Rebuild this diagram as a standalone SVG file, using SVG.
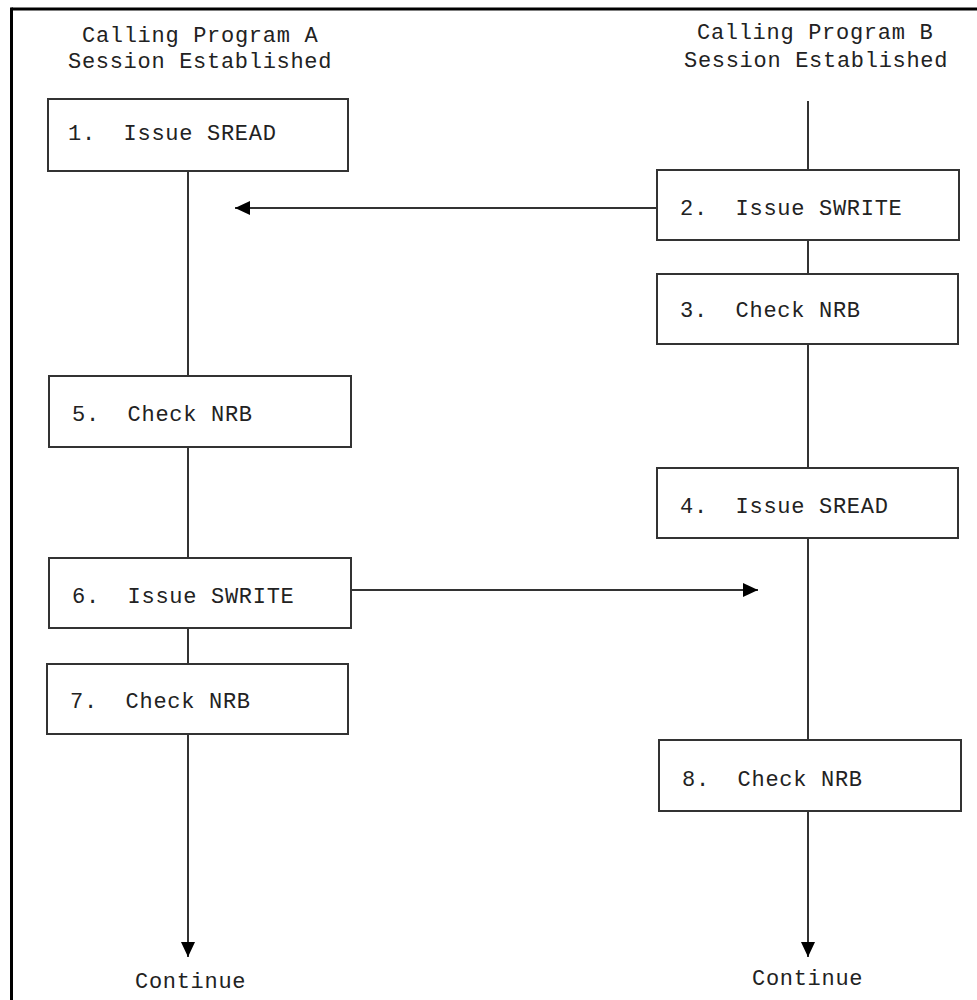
<svg xmlns="http://www.w3.org/2000/svg" width="977" height="1000" viewBox="0 0 977 1000">
<defs>
<style>
.t{font-family:"Liberation Mono","DejaVu Sans Mono",monospace;font-size:22px;letter-spacing:0.7px;fill:#222;white-space:pre}
.box{fill:#fff;stroke:#333;stroke-width:2}
.ln{stroke:#333;stroke-width:2;fill:none}
</style>
<marker id="ah" markerWidth="16" markerHeight="14" refX="15" refY="7" orient="auto" markerUnits="userSpaceOnUse">
<path d="M0,0 L15,7 L0,14 Z" fill="#000"/>
</marker>
</defs>
<rect width="977" height="1000" fill="#fff"/>
<g id="frame">
<line x1="11.5" y1="9" x2="977" y2="9" stroke="#000" stroke-width="3"/>
<line x1="11.5" y1="7.5" x2="11.5" y2="1000" stroke="#000" stroke-width="3"/>
</g>
<g id="headerA">
<text class="t" x="82" y="42">Calling Program A</text>
<text class="t" x="68" y="68">Session Established</text>
</g>
<g id="headerB">
<text class="t" x="697" y="39">Calling Program B</text>
<text class="t" x="684" y="67">Session Established</text>
</g>
<g id="connectors">
<line class="ln" x1="188" y1="171" x2="188" y2="376"/>
<line class="ln" x1="188" y1="447" x2="188" y2="558"/>
<line class="ln" x1="188" y1="628" x2="188" y2="664"/>
<line class="ln" x1="188" y1="734" x2="188" y2="957" marker-end="url(#ah)"/>
<line class="ln" x1="808" y1="101" x2="808" y2="170"/>
<line class="ln" x1="808" y1="240" x2="808" y2="274"/>
<line class="ln" x1="808" y1="344" x2="808" y2="468"/>
<line class="ln" x1="808" y1="538" x2="808" y2="740"/>
<line class="ln" x1="808" y1="811" x2="808" y2="957" marker-end="url(#ah)"/>
<line class="ln" x1="657" y1="208" x2="235" y2="208" marker-end="url(#ah)"/>
<line class="ln" x1="351" y1="590" x2="758" y2="590" marker-end="url(#ah)"/>
</g>
<g id="n1"><rect class="box" x="48" y="99" width="300" height="72"/><text class="t" x="68" y="140">1.  Issue SREAD</text></g>
<g id="n2"><rect class="box" x="657" y="170" width="302" height="70"/><text class="t" x="680" y="215">2.  Issue SWRITE</text></g>
<g id="n3"><rect class="box" x="657" y="274" width="301" height="70"/><text class="t" x="680" y="317">3.  Check NRB</text></g>
<g id="n5"><rect class="box" x="49" y="376" width="302" height="71"/><text class="t" x="72" y="421">5.  Check NRB</text></g>
<g id="n4"><rect class="box" x="657" y="468" width="301" height="70"/><text class="t" x="680" y="513">4.  Issue SREAD</text></g>
<g id="n6"><rect class="box" x="49" y="558" width="302" height="70"/><text class="t" x="72" y="603">6.  Issue SWRITE</text></g>
<g id="n7"><rect class="box" x="47" y="664" width="301" height="70"/><text class="t" x="70" y="708">7.  Check NRB</text></g>
<g id="n8"><rect class="box" x="659" y="740" width="302" height="71"/><text class="t" x="682" y="786">8.  Check NRB</text></g>
<g id="endA"><text class="t" x="135" y="988">Continue</text></g>
<g id="endB"><text class="t" x="752" y="985">Continue</text></g>
</svg>
